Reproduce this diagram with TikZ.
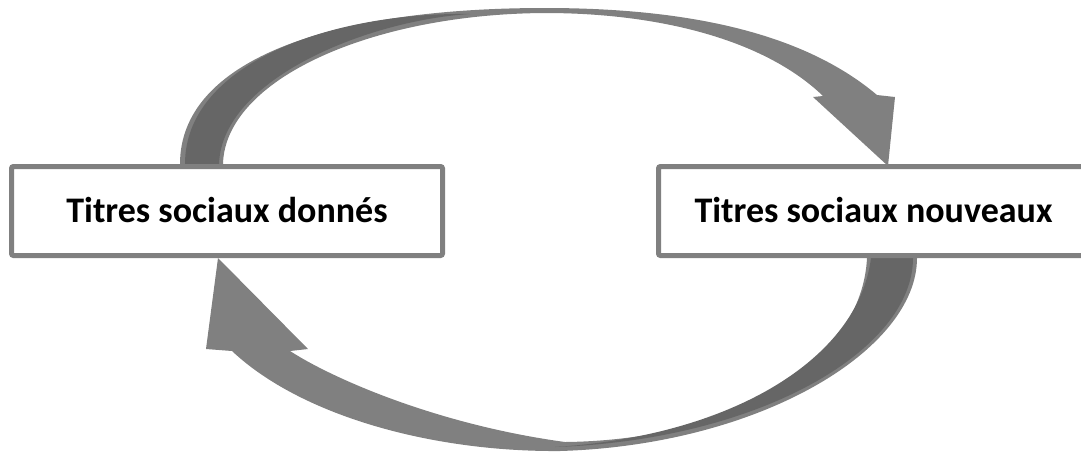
\documentclass[tikz,border=0pt]{standalone}
\usepackage{fontspec}
\setmainfont{Carlito}
\definecolor{ribbonface}{HTML}{808080}
\definecolor{ribbonback}{HTML}{666666}
\definecolor{frame}{HTML}{808080}
\begin{document}
\begin{tikzpicture}[x=0.75pt,y=-0.75pt,
  titlebox/.style={draw=frame, line width=3.75pt, fill=white, rounded corners=1.5pt,
    minimum height=66.75pt, inner sep=0pt, text height=17.4pt, text depth=0pt,
    font=\fontsize{27}{32}\selectfont\bfseries},
  face/.style={fill=ribbonface},
  back/.style={fill=ribbonback}]
\useasboundingbox (0,0) rectangle (1081,455);
\clip (0,0) rectangle (1081,455);

% upper curved arrow: from the left box over the top to the right box
\fill[face] (180,164) .. controls (180,60) and (330,8) .. (545,8)
  .. controls (680,8) and (800,30) .. (877,95)
  -- (895,97) -- (888,166) -- (813,97) -- (823,96)
  .. controls (765,40) and (660,13) .. (545,13)
  .. controls (370,14) and (225,80) .. (223,164) -- cycle;
\fill[back] (185,164) .. controls (185,64) and (330,12) .. (470,14)
  .. controls (370,20) and (222,78) .. (219,164) -- cycle;

% lower curved arrow: from the right box under the bottom back to the left box
\fill[face] (917,258) .. controls (917,350) and (760,445) .. (560,451)
  .. controls (430,452) and (300,415) .. (232,351)
  -- (206,349) -- (218,258) -- (308,349) -- (290,351)
  .. controls (335,380) and (440,425) .. (565,442)
  .. controls (740,440) and (862,360) .. (867,258) -- cycle;
\fill[back] (913,258) .. controls (913,350) and (760,440) .. (555,447)
  .. controls (730,436) and (858,360) .. (871,258) -- cycle;

% the two boxes
\node[titlebox, minimum width=323.25pt] (donnes) at (227,211) {Titres sociaux donnés};
\node[titlebox, minimum width=322.5pt] (nouveaux) at (873.5,211) {Titres sociaux nouveaux};
\end{tikzpicture}
\end{document}
